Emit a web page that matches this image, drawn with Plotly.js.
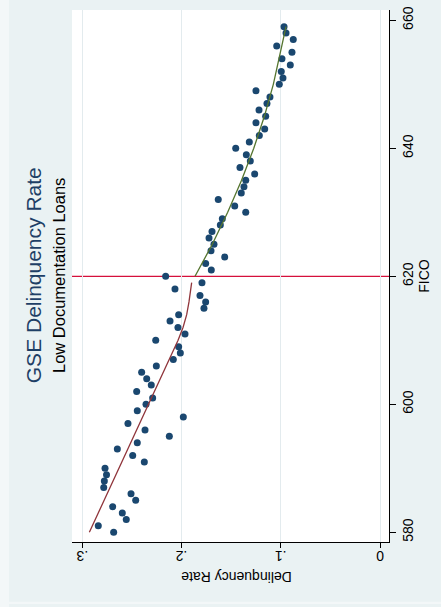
<!DOCTYPE html>
<html>
<head>
<meta charset="utf-8">
<script src="https://cdn.plot.ly/plotly-3.0.1.min.js"></script>
<style>
  html, body { margin: 0; padding: 0; background: #eaf2f3; }
  #chart { width: 441px; height: 607px; }
</style>
</head>
<body>
<div id="chart"></div>
<script>
// FICO score buckets and the delinquency rate observed in each
const fico = [
  580, 581, 582, 583, 584, 585, 586, 587, 588, 589,
  590, 591, 592, 593, 594, 595, 596, 597, 598, 599,
  600, 601, 602, 603, 604, 605, 606, 607, 608, 609,
  610, 611, 612, 613, 614, 615, 616, 617, 618, 619,
  620, 621, 622, 623, 624, 625, 626, 627, 628, 629,
  630, 631, 632, 633, 634, 635, 636, 637, 638, 639,
  640, 641, 642, 643, 644, 645, 646, 647, 648, 649,
  650, 651, 652, 653, 654, 655, 656, 657, 658, 659
];
const delinquency = [
  0.2684, 0.2839, 0.2557, 0.2597, 0.2694, 0.2462, 0.2509, 0.2784, 0.2778, 0.2756,
  0.2771, 0.2375, 0.2492, 0.2647, 0.2446, 0.2123, 0.2368, 0.2540, 0.1982, 0.2446,
  0.2358, 0.2291, 0.2452, 0.2305, 0.2351, 0.2402, 0.2254, 0.2083, 0.2012, 0.2029,
  0.2260, 0.1965, 0.2036, 0.2116, 0.2029, 0.1774, 0.1757, 0.1814, 0.2066, 0.1794,
  0.2160, 0.1700, 0.1757, 0.1565, 0.1703, 0.1673, 0.1723, 0.1693, 0.1609, 0.1589,
  0.1353, 0.1464, 0.1630, 0.1398, 0.1371, 0.1353, 0.1263, 0.1411, 0.1307, 0.1347,
  0.1454, 0.1317, 0.1216, 0.1162, 0.1250, 0.1152, 0.1219, 0.1139, 0.1109, 0.1250,
  0.1015, 0.0978, 0.0995, 0.0904, 0.0988, 0.0887, 0.1041, 0.0874, 0.0947, 0.0967
];

// Smoothed fit below the 620 cutoff
const ficoBelow = [580, 585, 590, 595, 600, 605, 610, 612, 614, 616, 618, 619];
const fitBelow  = [0.2929, 0.2780, 0.2630, 0.2480, 0.2330, 0.2182, 0.2035, 0.1985, 0.1948, 0.1925, 0.1908, 0.1898];

// Smoothed fit at and above the 620 cutoff
const ficoAbove = [620, 625, 630, 635, 640, 645, 650, 655, 659];
const fitAbove  = [0.1864, 0.1690, 0.1535, 0.1395, 0.1272, 0.1165, 0.1075, 0.1000, 0.0947];

const cutoff = 620;

const rateTicks = [0, 0.1, 0.2, 0.3];
const rateTickText = ['0', '.1', '.2', '.3'];
const ficoTicks = [580, 600, 620, 640, 660];

const chartTitle = 'GSE Delinquency Rate';
const chartSubtitle = 'Low Documentation Loans';
const rateTitle = 'Delinquency Rate';
const ficoTitle = 'FICO';

const FONT = 'Arial, "Liberation Sans", Helvetica, sans-serif';

const traces = [
  {
    type: 'scatter', mode: 'markers',
    x: delinquency, y: fico,
    marker: { color: '#1a476f', size: 7, line: { width: 0 } },
    hoverinfo: 'skip'
  },
  {
    type: 'scatter', mode: 'lines',
    x: fitBelow, y: ficoBelow,
    line: { color: '#90353b', width: 1.3 },
    hoverinfo: 'skip'
  },
  {
    type: 'scatter', mode: 'lines',
    x: fitAbove, y: ficoAbove,
    line: { color: '#55752f', width: 1.3 },
    hoverinfo: 'skip'
  }
];

const layout = {
  width: 441,
  height: 607,
  paper_bgcolor: '#eaf2f3',
  plot_bgcolor: '#ffffff',
  margin: { l: 72, r: 52, t: 10, b: 65, pad: 0 },
  showlegend: false,
  font: { family: FONT, color: '#000000', size: 14 },
  xaxis: {
    range: [0.31038, -0.00907],
    tickmode: 'array',
    tickvals: rateTicks,
    ticktext: rateTickText,
    tickangle: 180,
    tickfont: { family: FONT, size: 14, color: '#000' },
    ticks: 'outside', ticklen: 5, tickwidth: 1, tickcolor: '#000',
    showgrid: true, gridcolor: '#e3ebee', gridwidth: 1,
    zeroline: false,
    showline: true, linecolor: '#000', linewidth: 1,
    fixedrange: true
  },
  yaxis: {
    side: 'right',
    range: [578.48, 661.61],
    tickmode: 'array',
    tickvals: ficoTicks,
    tickangle: -90,
    tickfont: { family: FONT, size: 14, color: '#000' },
    ticks: 'outside', ticklen: 6, tickwidth: 1, tickcolor: '#000',
    showgrid: false,
    zeroline: false,
    showline: true, linecolor: '#000', linewidth: 1,
    title: { text: ficoTitle, font: { family: FONT, size: 14, color: '#000' }, standoff: 0 },
    fixedrange: true
  },
  shapes: [
    // pale outer frame strips of the graph region
    {
      type: 'rect', layer: 'below', xref: 'paper', yref: 'paper',
      x0: -0.2272, x1: -0.1987, y0: -0.1222, y1: 1.0188,
      fillcolor: '#f3f7f8', line: { width: 0 }
    },
    {
      type: 'rect', layer: 'below', xref: 'paper', yref: 'paper',
      x0: -0.1987, x1: 1.1641, y0: -0.1165, y1: -0.1122,
      fillcolor: '#f3f7f8', line: { width: 0 }
    },
    // cutoff at FICO 620
    {
      type: 'line', layer: 'between',
      xref: 'paper', x0: 0, x1: 1,
      yref: 'y', y0: cutoff, y1: cutoff,
      line: { color: '#d5103c', width: 1.3 }
    }
  ],
  annotations: [
    {
      text: chartTitle, textangle: -90,
      xref: 'paper', yref: 'paper', x: -0.119, y: 0.502,
      xanchor: 'center', yanchor: 'middle', showarrow: false,
      font: { family: FONT, size: 21, color: '#1e3f66' }
    },
    {
      text: chartSubtitle, textangle: -90,
      xref: 'paper', yref: 'paper', x: -0.041, y: 0.500,
      xanchor: 'center', yanchor: 'middle', showarrow: false,
      font: { family: FONT, size: 16.5, color: '#000' }
    },
    {
      text: rateTitle, textangle: 180,
      xref: 'paper', yref: 'paper', x: 0.517, y: -0.066,
      xanchor: 'center', yanchor: 'middle', showarrow: false,
      font: { family: FONT, size: 14, color: '#000' }
    }
  ]
};

Plotly.newPlot('chart', traces, layout, { displayModeBar: false, staticPlot: true });
</script>
</body>
</html>
